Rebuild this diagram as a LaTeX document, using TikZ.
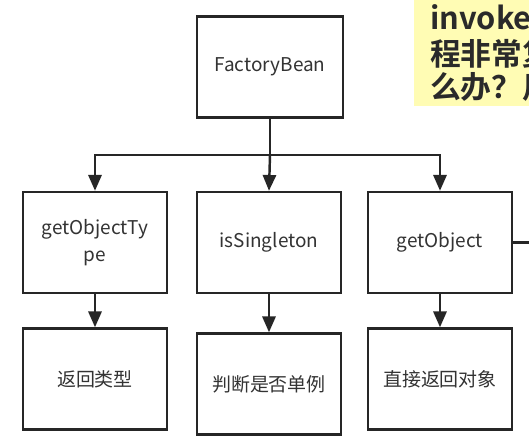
\documentclass[tikz,border=0pt]{standalone}
\usepackage{fontspec}
\setmainfont{Noto Sans CJK SC}
\newfontfamily\notefont{Noto Sans CJK SC Bold}
\usetikzlibrary{positioning, arrows.meta, calc}
\definecolor{boxink}{HTML}{262626}
\definecolor{boxtext}{HTML}{333333}
\definecolor{notefill}{HTML}{FFFCB4}
\definecolor{noteink}{HTML}{2A2A2A}

\begin{document}
\begin{tikzpicture}[
  x=0.02cm, y=-0.02cm,
  line width=1.4pt, line join=miter,
  >={Triangle[width=7.5pt, length=9pt]},
  box/.style  = {draw=boxink, line width=1.4pt, fill=white,
                 minimum width=2.88cm, minimum height=2.02cm, inner sep=2pt,
                 anchor=center, font=\fontsize{10.8}{15.5}\selectfont,
                 text=boxtext, align=center},
  topbox/.style = {box, minimum width=2.92cm},
  wire/.style = {draw=boxink, line width=1.4pt},
  note/.style = {font=\notefont\fontsize{17.5}{18}\selectfont, text=noteink,
                 anchor=north west, inner sep=0pt}
]
\useasboundingbox (0,0) rectangle (529,441);

% 便签（右上角，被截断）
\begin{scope}
  \clip (0,0) rectangle (529,441);
  \fill[notefill] (414,-2) rectangle (540,106);
  \node[note] (n1) at (429,3)  {invoke};
  \node[note] (n2) at (429,38) {程非常复};
  \node[note] (n3) at (429,71) {么办？用};
\end{scope}

\node[topbox] (fb) at (270,67)  {FactoryBean};

\node[box] (got) at (95,242.5)  {getObjectTy\\pe};
\node[box] (iss) at (269,242.5) {isSingleton};
\node[box] (go)  at (440,242.5) {getObject};

\node[box] (rt)  at (95,379)  {返回类型};
\node[box] (sg)  at (269,384) {判断是否单例};
\node[box] (ro)  at (440,379) {直接返回对象};

\coordinate (jn)  at (270,155);
\coordinate (out) at (529,242.5);

% 分支
\draw[wire] (fb.south) -- (jn);
\draw[wire,->] (jn) -| (got.north);
\draw[wire,->] (jn) -| (go.north);
\draw[wire,->] (jn) -- (iss.north);

\draw[wire,->] (got.south) -- (rt.north);
\draw[wire,->] (iss.south) -- (sg.north);
\draw[wire,->] (go.south)  -- (ro.north);

\draw[wire] (go.east) -- (out);

\end{tikzpicture}
\end{document}
